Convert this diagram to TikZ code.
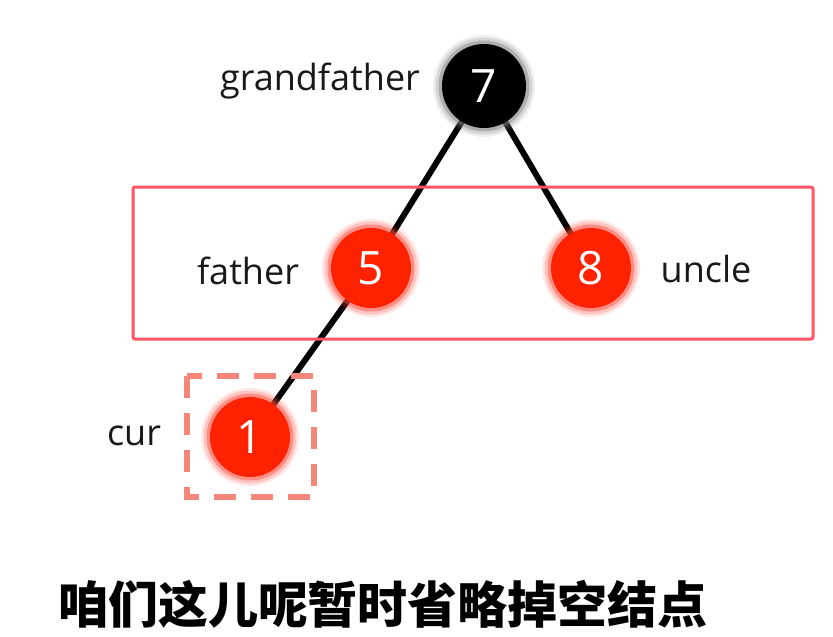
\documentclass[tikz,border=0pt]{standalone}
\usepackage{fontspec}
\setmainfont{Open Sans}
\newfontfamily\cjk{Noto Sans CJK SC}
\definecolor{nodered}{HTML}{FF2200}
\definecolor{glowred}{HTML}{FF4A3A}
\definecolor{boxred}{HTML}{FF5565}
\definecolor{dashsalmon}{HTML}{F4877A}
\tikzset{
  glow/.style={
    preaction={draw=#1, line width=18pt, draw opacity=0.12},
    preaction={draw=#1, line width=13pt, draw opacity=0.22},
    preaction={draw=#1, line width=7pt, draw opacity=0.45}},
  treenode/.style={circle, inner sep=0pt, minimum size=80pt, text=white,
    font=\fontsize{46}{50}\selectfont},
  rednode/.style={treenode, fill=nodered, glow=glowred},
  blacknode/.style={treenode, fill=black, minimum size=84pt, glow=gray},
  edge/.style={line width=6pt, black},
  lbl/.style={font=\fontsize{36}{40}\selectfont, text=black!90},
  groupbox/.style={draw=boxred, line width=3pt, rounded corners=2pt},
  curbox/.style={draw=dashsalmon, line width=6pt, dash pattern=on 22pt off 15pt}
}
\begin{document}
\begin{tikzpicture}[x=1pt,y=-1pt]
\useasboundingbox[fill=white] (0,0) rectangle (833,637);
% edges
\coordinate (c7) at (484,86);
\coordinate (c5) at (371,268);
\coordinate (c8) at (591,268);
\coordinate (c1) at (250,437);
\draw[edge] (c7) -- (c5);
\draw[edge] (c7) -- (c8);
\draw[edge] (c5) -- (c1);
% boxes
\draw[groupbox] (133,187) rectangle (813,339);
\draw[curbox] (187,376) rectangle (314,497);
% nodes
\node[blacknode] (n7) at (c7) {7};
\node[rednode] (n5) at (c5) {5};
\node[rednode] (n8) at (c8) {8};
\node[rednode] (n1) at (c1) {1};
% labels
\node[lbl] (lg) at (320,81) {grandfather};
\node[lbl] (lf) at (248,271) {father};
\node[lbl] (lu) at (706,269) {uncle};
\node[lbl] (lc) at (134,436) {cur};
\node[font=\cjk\bfseries\fontsize{50}{56}\selectfont] (cap) at (383,604) {咱们这儿呢暂时省略掉空结点};
\end{tikzpicture}
\end{document}
